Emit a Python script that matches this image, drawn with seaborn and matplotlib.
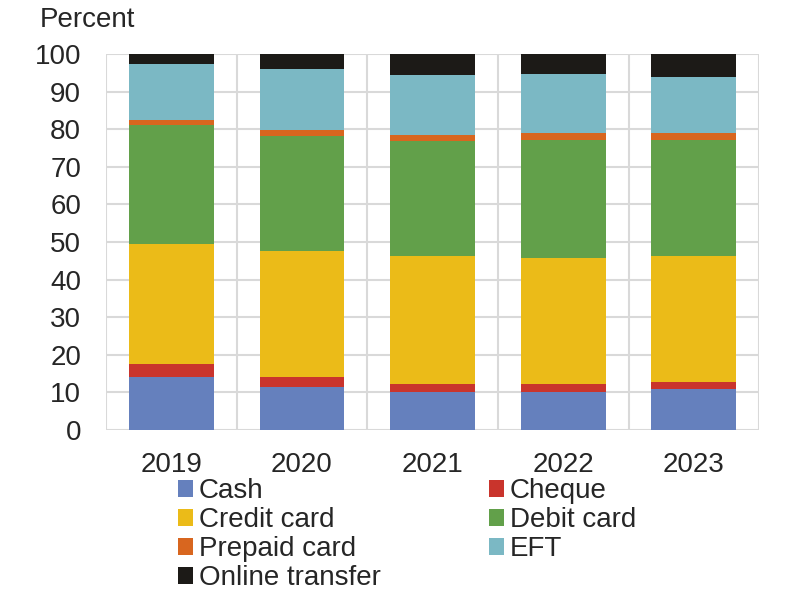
import pandas as pd
import matplotlib.pyplot as plt
import seaborn as sns
from matplotlib.patches import Patch

sns.set_style("white")
plt.rcParams["font.family"] = ["Liberation Sans", "DejaVu Sans"]

# Dados (percentual por método de pagamento)
years = ["2019", "2020", "2021", "2022", "2023"]
cash = [14.2, 11.5, 10.2, 10.2, 10.9]
cheque = [3.4, 2.7, 2.0, 2.0, 2.0]
credit = [32.0, 33.5, 34.2, 33.5, 33.5]
debit = [31.5, 30.6, 30.5, 31.4, 30.7]
prepaid = [1.3, 1.5, 1.6, 2.0, 2.0]
eft = [14.9, 16.1, 16.0, 15.5, 14.7]
online = [2.7, 4.1, 5.5, 5.4, 6.2]

methods = ["Cash", "Cheque", "Credit card", "Debit card", "Prepaid card", "EFT", "Online transfer"]
colors = ["#6580bd", "#c9342c", "#ebbb18", "#62a04a", "#d8661f", "#7bb8c4", "#1c1a17"]

df = pd.DataFrame({"year": years, "Cash": cash, "Cheque": cheque, "Credit card": credit,
                   "Debit card": debit, "Prepaid card": prepaid, "EFT": eft,
                   "Online transfer": online})
cum = df[methods].cumsum(axis=1)
cum["year"] = df["year"]

fs = 20

fig = plt.figure(figsize=(8, 6), dpi=100)
ax = fig.add_axes([0.1325, 0.2833, 0.8165, 0.6267])

# barras empilhadas: desenha do total acumulado maior para o menor
for m, c in reversed(list(zip(methods, colors))):
    sns.barplot(data=cum, x="year", y=m, color=c, width=0.65, saturation=1,
                linewidth=0, edgecolor="none", ax=ax, zorder=2)

ax.set_ylim(0, 100)
ax.set_xlim(-0.5, 4.5)
ax.set_yticks(range(0, 101, 10))
ax.set_xticks([i - 0.5 for i in range(6)], minor=True)
ax.grid(axis="y", which="major", color="#d9d9d9", lw=1.5, zorder=0)
ax.grid(axis="x", which="minor", color="#d9d9d9", lw=1.5, zorder=0)
ax.set_axisbelow(True)
for s in ax.spines.values():
    s.set_visible(False)
ax.tick_params(axis="both", which="both", length=0, labelsize=fs)
ax.tick_params(axis="y", pad=18)
ax.tick_params(axis="x", pad=16)
ax.set_xlabel("")
ax.set_ylabel("")

fig.text(0.05, 0.967, "Percent", fontsize=fs, va="center", ha="left")

handles = [Patch(facecolor=c, edgecolor="none", label=m) for m, c in zip(methods, colors)]
order = [0, 2, 4, 6, 1, 3, 5]
fig.legend([handles[i] for i in order], [methods[i] for i in order],
           loc="upper left", bbox_to_anchor=(0.2225, 0.203), ncol=2, frameon=False,
           fontsize=fs, handlelength=0.55, handleheight=0.55, handletextpad=0.2,
           columnspacing=3.9, labelspacing=0.11, borderaxespad=0, borderpad=0)

plt.savefig("out.png")
plt.close()
